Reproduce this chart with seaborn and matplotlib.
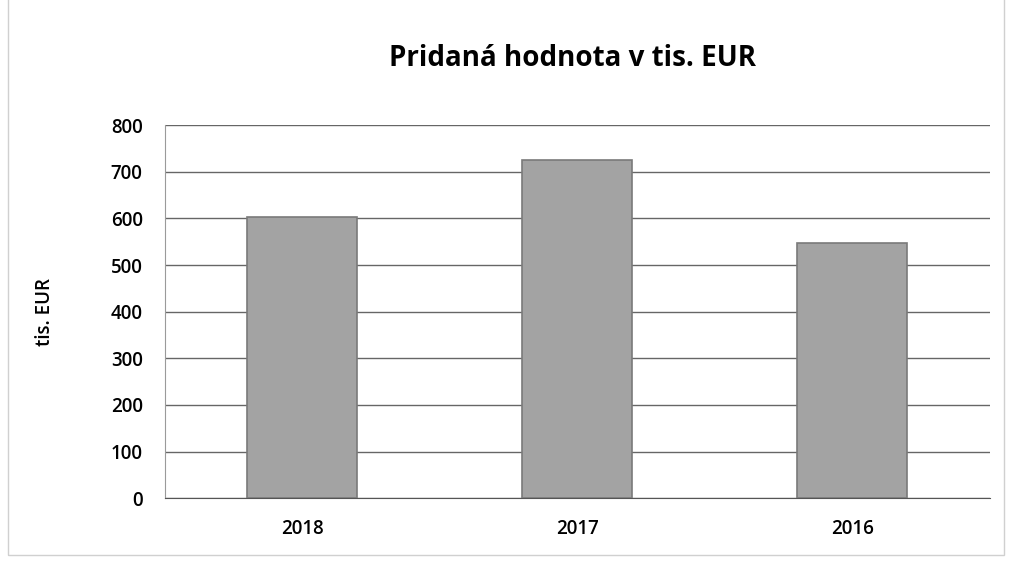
import matplotlib
matplotlib.use("Agg")
import matplotlib.pyplot as plt
import seaborn as sns
import pandas as pd
from matplotlib.patches import Rectangle

# chart data
years = ["2018", "2017", "2016"]
values = [602, 725, 548]
y_ticks = [0, 100, 200, 300, 400, 500, 600, 700, 800]

title = "Pridaná hodnota v tis. EUR"
y_label = "tis. EUR"


def main():
    sns.set_style("white")
    plt.rcParams["font.family"] = ["Open Sans", "DejaVu Sans"]
    plt.rcParams["text.color"] = "black"
    plt.rcParams["xtick.color"] = "black"
    plt.rcParams["ytick.color"] = "black"
    plt.rcParams["axes.labelcolor"] = "black"

    df = pd.DataFrame({"year": years, "value": values})

    fig = plt.figure(figsize=(10.12, 5.61), dpi=100)
    ax = fig.add_axes([0.163, 0.112, 0.815, 0.665])

    sns.barplot(data=df, x="year", y="value", ax=ax, color="#a3a3a3",
                width=0.4, edgecolor="#7a7a7a", linewidth=1.2, zorder=3)

    ax.set_ylim(0, 800)
    ax.set_yticks(y_ticks)
    ax.set_yticklabels([str(t) for t in y_ticks], fontsize=13.5, fontweight="semibold")
    ax.set_xticklabels(years, fontsize=13.5, fontweight="semibold")
    ax.yaxis.grid(True, color="#666666", linewidth=1.0, zorder=0)
    ax.set_axisbelow(True)

    for side in ["top", "right"]:
        ax.spines[side].set_visible(False)
    ax.spines["left"].set_color("#9a9a9a")
    ax.spines["bottom"].set_color("#555555")
    ax.tick_params(axis="y", length=5, color="#9a9a9a", labelcolor="black", pad=11)
    ax.tick_params(axis="x", length=0, labelcolor="black", pad=15)

    ax.set_xlabel("")
    ax.set_ylabel(y_label, fontsize=13.5, fontweight="semibold", color="black")
    ax.yaxis.set_label_coords(-0.133, 0.5)
    fig.text(0.566, 0.895, title, ha="center", va="center",
             fontsize=20, fontweight="bold", color="black")

    # faint border of the scanned chart area
    fig.patches.append(Rectangle((0.008, 0.01), 0.984, 1.2, transform=fig.transFigure,
                                 fill=False, edgecolor="#d0d0d0", linewidth=1.0))

    fig.savefig("out.png", dpi=100)
    plt.close(fig)


if __name__ == "__main__":
    main()
